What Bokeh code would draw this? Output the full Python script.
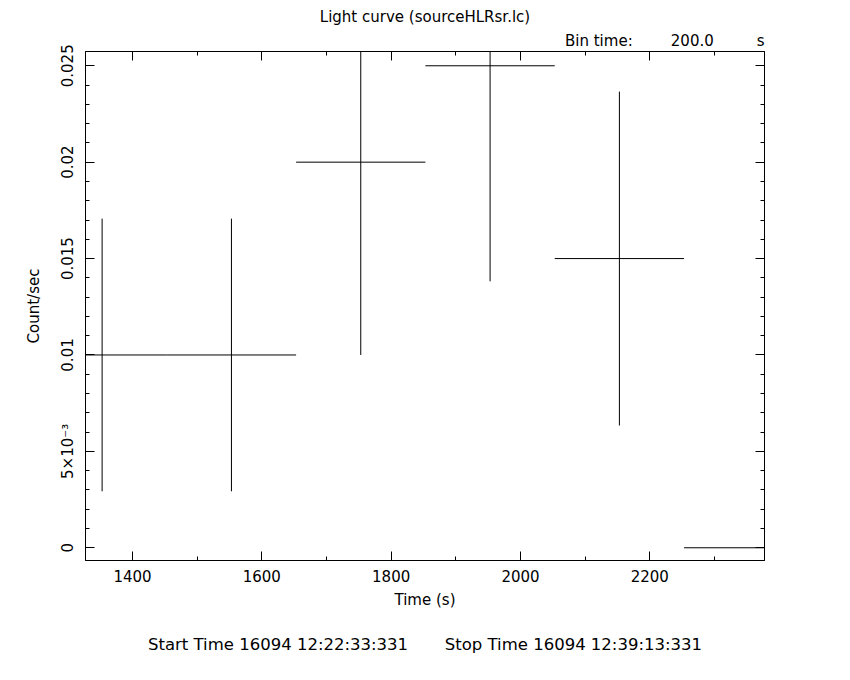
from bokeh.plotting import figure
from bokeh.models import (ColumnDataSource, Range1d, LinearAxis, FixedTicker,
                          CustomJSTickFormatter, Title)
from bokeh.embed import file_html
from bokeh.resources import INLINE

# ---- data ----
time_center = [1353, 1553, 1753, 1953, 2153, 2353]
rate = [0.010, 0.010, 0.020, 0.025, 0.015, 0.0]
rate_err = [0.00707, 0.00707, 0.0100, 0.01118, 0.00866, 0.0]
bin_time = 200.0

x_major = [1400, 1600, 1800, 2000, 2200]
x_minor = [1400, 1500, 1600, 1700, 1800, 1900, 2000, 2100, 2200, 2300]
y_major = [0.0, 0.005, 0.01, 0.015, 0.02, 0.025]
y_minor = [i / 1000 for i in range(0, 26)]
y_labels = ["0", "5×10⁻³", "0.01", "0.015", "0.02", "0.025"]

title_text = "Light curve (sourceHLRsr.lc)"
start_text = "Start Time 16094 12:22:33:331"
stop_text = "Stop Time 16094 12:39:13:331"

FONT = "DejaVu Sans"
FS = "15px"
NB = "\u00a0"

half = bin_time / 2.0
src = ColumnDataSource(dict(
    x=time_center,
    y=rate,
    x0=[t - half for t in time_center],
    x1=[t + half for t in time_center],
    y0=[r - e for r, e in zip(rate, rate_err)],
    y1=[r + e for r, e in zip(rate, rate_err)],
))

p = figure(width=834, height=676, output_backend="svg", toolbar_location=None,
           x_range=Range1d(1327.3, 2377.4), y_range=Range1d(-0.00066, 0.02574),
           min_border_left=85, min_border_right=70, min_border_top=51,
           min_border_bottom=116, x_axis_type=None, y_axis_type=None)
p.grid.visible = False
p.outline_line_color = "black"
p.outline_line_width = 1
p.background_fill_color = "white"
p.border_fill_color = "white"

p.segment(x0="x0", y0="y", x1="x1", y1="y", source=src, line_color="black", line_width=1)
p.segment(x0="x", y0="y0", x1="x", y1="y1", source=src, line_color="black", line_width=1)

blank = CustomJSTickFormatter(code="return ''")


def style(ax, labels=True):
    ax.axis_line_color = "black"
    ax.major_tick_line_color = "black"
    ax.minor_tick_line_color = "black"
    ax.major_tick_in = 9
    ax.major_tick_out = 0
    ax.minor_tick_in = 4
    ax.minor_tick_out = 0
    ax.major_label_text_font = FONT
    ax.major_label_text_font_size = FS
    ax.major_label_text_color = "black"
    ax.axis_label_text_font = FONT
    ax.axis_label_text_font_size = FS
    ax.axis_label_text_font_style = "normal"
    ax.axis_label_text_color = "black"
    if not labels:
        ax.formatter = blank
        ax.major_label_standoff = 0


xb = LinearAxis(ticker=FixedTicker(ticks=x_major, minor_ticks=x_minor), axis_label="Time (s)")
style(xb)
xb.major_label_standoff = 9
xb.axis_label_standoff = 6
p.add_layout(xb, "below")

xt = LinearAxis(ticker=FixedTicker(ticks=x_major, minor_ticks=x_minor))
style(xt, labels=False)
p.add_layout(xt, "above")

yl = LinearAxis(ticker=FixedTicker(ticks=y_major, minor_ticks=y_minor), axis_label="Count/sec")
style(yl)
yl.major_label_orientation = "parallel"
yl.major_label_overrides = {v: s for v, s in zip(y_major, y_labels)}
yl.major_label_standoff = 8
yl.axis_label_standoff = 14
p.add_layout(yl, "left")

yr = LinearAxis(ticker=FixedTicker(ticks=y_major, minor_ticks=y_minor))
style(yr, labels=False)
p.add_layout(yr, "right")


def ttl(text, align, side, standoff, size=FS):
    p.add_layout(Title(text=text, align=align, text_font=FONT, text_font_size=size,
                       text_font_style="normal", text_color="black",
                       standoff=standoff), side)


bin_line = "Bin time:" + NB * 8 + f"{bin_time:.1f}" + NB * 9 + "s"
ttl(bin_line, "right", "above", 3)
ttl(title_text, "center", "above", 5)
ttl(start_text + NB * 7 + stop_text, "center", "below", 42, "16.5px")

open("out.html", "w").write(file_html(p, INLINE))
